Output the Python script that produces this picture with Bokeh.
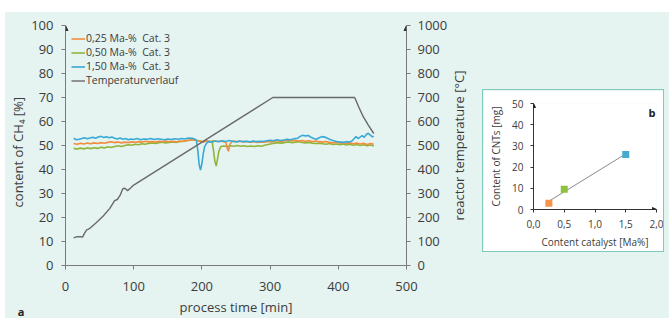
import math
import numpy as np
from bokeh.plotting import figure
from bokeh.models import (Range1d, LinearAxis, FixedTicker, Legend, LegendItem,
                          Label, Row, Arrow, NormalHead)
from bokeh.embed import file_html
from bokeh.resources import INLINE

# ---------------- data ----------------
series_labels = ["0,25 Ma-%  Cat. 3", "0,50 Ma-%  Cat. 3", "1,50 Ma-%  Cat. 3", "Temperaturverlauf"]
x_title = "process time [min]"
y_title = "content of CH\u2084  [%]"
y2_title = "reactor temperature [°C]"

t_orange = ([12 + 5 * k for k in range(45)] + [235, 237, 239, 241, 244]
            + [247 + 5 * k for k in range(42)])
ch4_orange = [50.8, 50.5, 50.9, 50.6, 51.0, 50.7, 51.1, 50.8, 51.2, 50.9,
              51.3, 51.6, 51.2, 51.5, 51.1, 51.4, 51.2, 51.5, 51.3, 51.6,
              51.4, 51.8, 51.5, 51.7, 51.4, 51.8, 51.6, 51.9, 51.6, 51.8,
              51.5, 51.9, 51.7, 52.0, 52.2, 52.4, 52.1, 51.8, 51.5, 51.9,
              51.6, 52.0, 51.7, 51.9, 51.6,
              51.4, 49.0, 47.6, 50.5, 51.6,
              51.9, 51.6, 51.8, 51.5, 51.7, 51.4, 51.6, 51.3, 51.5, 51.4,
              51.7, 51.5, 51.8, 52.0, 51.7, 52.1, 52.3, 52.0, 52.2, 51.9,
              52.1, 51.8, 52.0, 51.7, 51.9, 51.6, 51.4, 51.7, 51.3, 51.1,
              51.4, 51.0, 51.2, 50.8, 51.1, 50.7, 51.0, 50.6, 50.9, 50.4,
              50.8, 50.5]

t_green = ([12 + 5 * k for k in range(41)] + [215, 217, 219, 221, 223, 225, 228]
           + [232 + 5 * k for k in range(45)])
ch4_green = [48.8, 48.5, 48.9, 48.6, 49.0, 48.7, 49.1, 48.8, 49.3, 49.0,
             49.5, 49.2, 49.6, 49.9, 49.6, 50.0, 50.3, 50.1, 50.5, 50.3,
             50.7, 50.5, 50.9, 51.1, 50.8, 51.2, 51.4, 51.1, 51.3, 51.5,
             51.3, 51.6, 51.8, 52.0, 52.3, 52.5, 52.2, 51.9, 51.6, 51.9,
             51.7,
             51.5, 48.0, 43.5, 41.4, 44.5, 47.8, 49.6,
             49.8, 49.6, 49.9, 49.7, 50.0, 49.7, 49.9, 49.6, 49.8, 49.6,
             49.9, 49.7, 50.1, 50.4, 50.7, 51.0, 51.2, 51.0, 51.3, 51.5,
             51.2, 51.4, 51.6, 51.3, 51.1, 51.3, 51.0, 50.8, 51.0, 50.7,
             50.5, 50.8, 50.4, 50.6, 50.3, 50.6, 50.2, 50.5, 50.1, 50.4,
             50.0, 50.3, 49.9, 50.2, 49.8]

t_blue = ([12 + 4 * k for k in range(20)] + [92, 96, 100]
          + [105 + 5 * k for k in range(17)]
          + [189, 192, 194, 196, 198, 200, 202, 204, 207, 210]
          + [215 + 5 * k for k in range(26)]
          + [344 + 4 * k for k in range(20)]
          + [423 + 3 * k for k in range(10)] + [452])
ch4_blue = [53.0, 52.4, 52.6, 52.9, 53.2, 52.8, 53.1, 53.4, 53.0, 53.5,
            53.8, 53.3, 53.6, 53.2, 53.5, 53.0, 52.7, 53.1, 52.6, 52.9,
            52.4, 52.7, 52.5,
            52.9, 52.4, 52.7, 52.6, 52.9, 52.5, 52.8, 52.6, 52.4, 52.7,
            52.5, 52.8, 52.6, 52.9, 52.7, 53.1, 53.0,
            52.8, 52.0, 48.0, 42.0, 39.8, 42.5, 46.5, 49.5, 51.0, 51.6,
            51.5, 51.9, 51.6, 52.0, 51.7, 52.1, 51.8, 51.5, 51.9, 51.6,
            51.8, 51.5, 51.9, 51.6, 51.8, 51.7, 52.0, 52.2, 52.0, 52.4,
            52.1, 52.3, 52.6, 52.4, 52.8, 53.0,
            53.8, 54.3, 54.0, 54.2, 53.4, 52.9, 52.6, 53.2, 53.7, 53.5,
            53.0, 52.5, 52.1, 51.8, 51.5, 51.4, 51.3, 51.6, 51.4, 51.9,
            52.8, 53.7, 52.9, 53.5, 54.1, 53.4, 54.6, 55.1, 54.3, 53.6,
            53.9]

t_temp = [12, 17, 22, 25, 28, 31, 34, 37, 45, 55, 65, 72, 76, 80, 84, 87, 91, 95,
          100, 304, 424, 430, 437, 444, 452]
temp_c = [115, 120, 120, 118, 135, 148, 152, 158, 178, 205, 238, 270, 275, 292, 320,
          322, 312, 322, 335, 700, 700, 660, 618, 585, 550]

time_ticks = [0, 100, 200, 300, 400, 500]
ch4_ticks = [0, 10, 20, 30, 40, 50, 60, 70, 80, 90, 100]
temp_ticks = [0, 100, 200, 300, 400, 500, 600, 700, 800, 900, 1000]

# inset b
cat_content = [0.25, 0.50, 1.50]
cnt_mass = [3.0, 9.5, 26.0]
cat_ticks = [0, 0.5, 1.0, 1.5, 2.0]
cat_tick_labels = ["0,0", "0,5", "1,0", "1,5", "2,0"]
cnt_ticks = [0, 10, 20, 30, 40, 50]

for a, b in [(t_orange, ch4_orange), (t_green, ch4_green), (t_blue, ch4_blue), (t_temp, temp_c)]:
    assert len(a) == len(b), (len(a), len(b))

# ---------------- styles ----------------
TEAL = "#e5f3f1"
FONT = "Open Sans"
TXT = "#3c3c3c"
AX = "#7a7a7a"
C_OR = "#f28c3f"
C_GR = "#8fb63a"
C_BL = "#37aad6"
C_TEMP = "#6a6a6a"
H = 306        # panel height in px
TOP = 13       # top border shared by all panels of the row
SH = H - TOP   # height of the title strips' frames


def style_axis(ax, size, line_col, tick_out, standoff, label_standoff):
    ax.axis_line_color = line_col
    ax.major_tick_line_color = line_col
    ax.major_tick_out = tick_out
    ax.major_tick_in = 0
    ax.minor_tick_line_color = None
    ax.major_label_text_font = FONT
    ax.major_label_text_font_size = size
    ax.major_label_text_color = TXT
    ax.axis_label_text_font = FONT
    ax.axis_label_text_font_size = size
    ax.axis_label_text_color = TXT
    ax.axis_label_text_font_style = "normal"
    ax.major_label_standoff = standoff
    ax.axis_label_standoff = label_standoff


def text_strip(width):
    """A plain figure (pixel coordinates from its bottom-left) holding title texts."""
    f = figure(frame_width=width, frame_height=SH, x_range=Range1d(0, width), y_range=Range1d(0, SH),
               x_axis_type=None, y_axis_type=None, min_border=0, min_border_top=TOP,
               output_backend="svg", toolbar_location=None,
               background_fill_color=TEAL, border_fill_color=TEAL, outline_line_color=None)
    f.grid.visible = False
    return f


# left strip: y-axis title and panel letter "a"
s = text_strip(22)
s.add_layout(Label(x=12, y=168, text=y_title, angle=math.pi / 2, text_font=FONT,
                   text_font_size="13px", text_color=TXT,
                   text_align="center", text_baseline="middle"))
s.add_layout(Label(x=15.5, y=7.5, text="a", text_font=FONT, text_font_size="11px",
                   text_font_style="bold", text_color="#222222",
                   text_align="center", text_baseline="middle"))

# right strip: temperature axis title (reads bottom-to-top)
r = text_strip(20)
r.add_layout(Label(x=8, y=173, text=y2_title, angle=math.pi / 2, text_font=FONT,
                   text_font_size="13px", text_color=TXT,
                   text_align="center", text_baseline="middle"))

# ---------------- main chart (a) ----------------
p = figure(width=423, height=H, x_range=Range1d(0, 500), y_range=Range1d(0, 100),
           output_backend="svg", toolbar_location=None,
           min_border_left=38, min_border_right=44, min_border_top=TOP, min_border_bottom=53,
           background_fill_color=TEAL, border_fill_color=TEAL, outline_line_color=None)
p.xgrid.visible = False
p.ygrid.visible = False
p.extra_y_ranges = {"temp": Range1d(0, 1000)}

p.xaxis[0].ticker = FixedTicker(ticks=time_ticks)
p.xaxis[0].axis_label = x_title
style_axis(p.xaxis[0], "13px", AX, 4, 12, 4)

p.yaxis[0].ticker = FixedTicker(ticks=ch4_ticks)
style_axis(p.yaxis[0], "13px", AX, 4, 8, 0)

rax = LinearAxis(y_range_name="temp", ticker=FixedTicker(ticks=temp_ticks))
style_axis(rax, "13px", AX, 4, 7, 0)
p.add_layout(rax, "right")

# axis arrowheads
for xv in [p.x_range.start, p.x_range.end]:
    p.add_layout(Arrow(end=NormalHead(size=5, fill_color="#333333", line_color="#333333"),
                       line_color=AX, line_width=1,
                       x_start=xv, y_start=p.y_range.end - 2, x_end=xv, y_end=p.y_range.end))

r_gr = p.line(t_green, ch4_green, color=C_GR, line_width=1.6)
r_or = p.line(t_orange, ch4_orange, color=C_OR, line_width=1.6)
r_bl = p.line(t_blue, ch4_blue, color=C_BL, line_width=1.6)
r_tp = p.line(t_temp, temp_c, color=C_TEMP, line_width=1.4, y_range_name="temp")

legend = Legend(items=[LegendItem(label=series_labels[0], renderers=[r_or]),
                       LegendItem(label=series_labels[1], renderers=[r_gr]),
                       LegendItem(label=series_labels[2], renderers=[r_bl]),
                       LegendItem(label=series_labels[3], renderers=[r_tp])],
                location="top_left", margin=6, padding=0, spacing=0,
                glyph_width=14, glyph_height=13, label_height=13, label_standoff=1,
                label_text_font=FONT, label_text_font_size="10.5px", label_text_color=TXT,
                background_fill_alpha=0, border_line_color=None)
p.add_layout(legend)

# ---------------- inset (b) ----------------
q = figure(frame_width=123, frame_height=106, x_range=Range1d(0, 2), y_range=Range1d(0, 50),
           output_backend="svg", toolbar_location=None,
           min_border_left=50, min_border_right=7, min_border_top=13, min_border_bottom=42,
           background_fill_color="white", border_fill_color="white", outline_line_color=None,
           margin=(78, 6, 0, 13), styles={"box-shadow": "0 0 0 1px #7fcbbb"})
q.xgrid.visible = False
q.ygrid.visible = False
q.xaxis[0].ticker = FixedTicker(ticks=cat_ticks)
q.xaxis[0].major_label_overrides = dict(zip(cat_ticks, cat_tick_labels))
q.xaxis[0].axis_label = "Content catalyst [Ma%]"
style_axis(q.xaxis[0], "10px", "#333333", 3, 7, 4)
q.yaxis[0].ticker = FixedTicker(ticks=cnt_ticks)
q.yaxis[0].axis_label = "Content of CNTs [mg]"
style_axis(q.yaxis[0], "10px", "#333333", 3, 7, 6)

q.add_layout(Arrow(end=NormalHead(size=4, fill_color="#222222", line_color="#222222"),
                   line_color="#333333", x_start=q.x_range.start, y_start=q.y_range.end - 1,
                   x_end=q.x_range.start, y_end=q.y_range.end))
q.add_layout(Arrow(end=NormalHead(size=4, fill_color="#222222", line_color="#222222"),
                   line_color="#333333", x_start=q.x_range.end - 0.05, y_start=q.y_range.start,
                   x_end=q.x_range.end, y_end=q.y_range.start))

coef = np.polyfit(cat_content, cnt_mass, 1)
fit_x = [min(cat_content), max(cat_content)]
fit_y = [float(np.polyval(coef, v)) for v in fit_x]
q.line(fit_x, fit_y, color="#8a8a8a", line_width=1)
q.scatter(cat_content, cnt_mass, marker="square", size=7,
          color=["#f7944a", "#8fc23c", "#45a9d0"], line_color=None)
q.add_layout(Label(x=2.0, y=50, text="b", text_font=FONT, text_font_size="11px",
                   text_font_style="bold", text_color="#222222",
                   text_align="right", text_baseline="top", x_offset=-1, y_offset=-1))

row = Row(children=[s, p, r, q], margin=(12, 0, 0, 5), styles={"background-color": TEAL})

open("out.html", "w").write(file_html(row, INLINE))
